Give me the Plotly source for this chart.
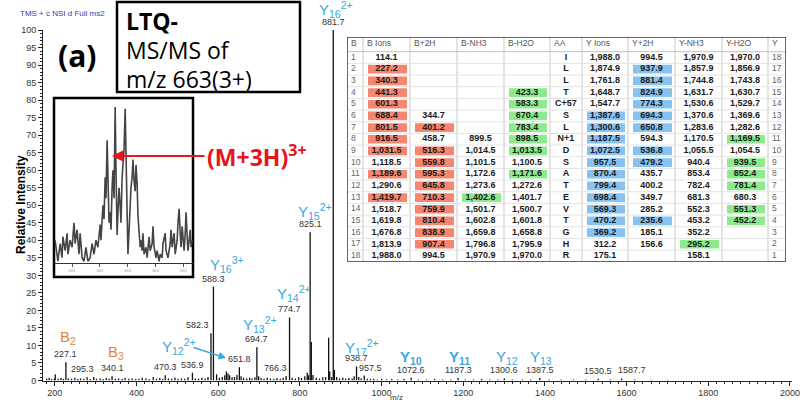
import plotly.graph_objects as go

W, H = 800, 410

# ---------------- spectrum (m/z, relative intensity) ----------------
peak_mz = [180, 186, 192, 199, 201, 208, 215, 221, 227.1, 233, 241, 249, 256, 263, 271, 279, 287,
           295.3, 302, 311, 318, 326, 333, 340.1, 348, 356, 365, 372, 381, 389, 398, 406, 414,
           423, 431, 441, 449, 457, 464, 470.3, 478, 486, 494, 502, 510, 518, 526, 536.9, 544,
           552, 560, 568, 575, 582.3, 588.3, 596, 603, 610, 616, 620, 624, 628, 634, 640, 646,
           651.8, 656, 662, 670, 677, 683, 690, 694.7, 699, 705, 712, 720, 728, 736, 744, 752,
           759, 766.3, 774.7, 781, 789, 797, 804, 812, 818, 821, 825.1, 828, 832, 840, 848, 856,
           863, 870.4, 873, 878, 881.7, 884.5, 890, 897, 905, 912, 920, 928, 933, 938.7, 944,
           950, 957.5, 965, 973, 981, 990, 1000, 1012, 1025, 1040, 1055, 1072.6, 1090, 1110,
           1130, 1150, 1170, 1187.3, 1205, 1225, 1245, 1265, 1285, 1300.6, 1320, 1345, 1365,
           1387.5, 1410, 1440, 1470, 1500, 1530.5, 1560, 1587.7, 1620, 1660, 1700]
peak_int = [0.5, 0.8, 0.4, 0.6, 1.8, 0.5, 0.7, 0.4, 5.2, 0.6, 0.5, 0.8, 0.4, 0.6, 0.5, 0.9, 0.4,
            1.0, 0.5, 0.6, 0.4, 0.7, 0.5, 1.2, 0.5, 0.6, 0.4, 0.7, 0.5, 0.6, 0.4, 0.5, 0.8,
            0.6, 0.4, 1.0, 0.5, 0.7, 0.4, 1.5, 0.6, 0.5, 0.8, 0.4, 0.6, 0.5, 0.9, 2.2, 0.6,
            0.5, 0.8, 0.6, 1.0, 13.5, 26.8, 1.8, 0.8, 1.0, 1.5, 2.6, 2.0, 1.5, 0.9, 1.0, 1.6,
            3.8, 1.2, 0.8, 0.6, 0.8, 0.6, 0.9, 9.5, 1.2, 0.7, 0.5, 0.8, 0.6, 0.5, 0.7, 0.5,
            0.8, 1.3, 18.0, 0.8, 0.6, 0.9, 0.7, 1.2, 2.2, 1.5, 42.3, 11.0, 1.6, 0.8, 0.6, 0.9,
            1.0, 12.2, 2.6, 1.0, 100.0, 3.0, 1.0, 0.6, 0.8, 0.5, 0.7, 0.6, 1.2, 4.0, 1.0,
            0.6, 1.4, 0.5, 0.4, 0.5, 0.3, 0.4, 0.3, 0.4, 0.3, 0.4, 0.8, 0.3, 0.3,
            0.4, 0.3, 0.3, 0.7, 0.3, 0.3, 0.4, 0.3, 0.3, 0.6, 0.3, 0.3, 0.3,
            0.7, 0.3, 0.3, 0.3, 0.3, 0.5, 0.3, 0.6, 0.3, 0.2, 0.2]

label_mz = [227.1, 295.3, 340.1, 470.3, 536.9, 582.3, 588.3, 651.8, 694.7, 766.3, 774.7,
            825.1, 881.7, 938.7, 957.5, 1072.6, 1187.3, 1300.6, 1387.5, 1530.5, 1587.7]

# inset: isotope cluster of the (M+3H)3+ precursor
inset_mz = [660.39, 660.46, 660.49, 660.57, 660.64, 660.67, 660.75, 660.82, 660.85, 660.93,
            661.00, 661.07, 661.11, 661.18, 661.25, 661.29, 661.36, 661.43, 661.50, 661.57,
            661.65, 661.72, 661.79, 661.86, 661.93, 662.01, 662.04, 662.11, 662.15, 662.19,
            662.22, 662.26, 662.29, 662.33, 662.37, 662.40, 662.44, 662.47, 662.51, 662.55,
            662.58, 662.62, 662.65, 662.69, 662.73, 662.76, 662.80, 662.83, 662.87, 662.91,
            662.94, 662.98, 663.01, 663.05, 663.09, 663.12, 663.16, 663.19, 663.23, 663.27,
            663.30, 663.34, 663.37, 663.41, 663.45, 663.48, 663.52, 663.55, 663.59, 663.66,
            663.70, 663.77, 663.81, 663.88, 663.91, 663.95, 664.02, 664.06, 664.13, 664.17,
            664.24, 664.27, 664.35, 664.38, 664.45, 664.53, 664.56, 664.60, 664.67, 664.71,
            664.78, 664.81, 664.85, 664.89, 664.92, 664.96, 664.99, 665.03, 665.07, 665.10,
            665.14, 665.17, 665.21, 665.25, 665.28, 665.32]
inset_int = [40, 36, 34, 39, 35, 41, 37, 42, 36, 40,
             38, 45, 39, 43, 36, 42, 35, 34, 38, 34,
             35, 39, 36, 40, 38, 44.5, 40, 50, 46, 58,
             52, 68.5, 55, 45, 48, 43, 55, 60, 52, 78,
             60, 41.5, 48, 55, 50, 45, 58, 62, 66, 77.5,
             60, 48, 36, 44, 50, 55, 58, 63, 57, 54,
             61.5, 56, 47, 42, 38, 40, 37, 42, 36, 38,
             35, 41, 37, 39, 44, 38, 35, 37, 34, 36,
             35, 39, 42, 37, 35, 39, 43, 38, 42, 36,
             40, 45, 49, 42, 38, 44, 40, 37, 42, 48,
             41, 37, 40, 43, 38, 40]

# ---------------- fragment table ----------------
headers = ["B", "B Ions", "B+2H", "B-NH3", "B-H2O", "AA", "Y Ions", "Y+2H", "Y-NH3", "Y-H2O", "Y"]
b_num = [str(i) for i in range(1, 19)]
b_ions = ["114.1", "227.2", "340.3", "441.3", "601.3", "688.4", "801.5", "916.5", "1,031.5",
          "1,118.5", "1,189.6", "1,290.6", "1,419.7", "1,518.7", "1,619.8", "1,676.8", "1,813.9", "1,988.0"]
b_2h = ["", "", "", "", "", "344.7", "401.2", "458.7", "516.3", "559.8", "595.3", "645.8",
        "710.3", "759.9", "810.4", "838.9", "907.4", "994.5"]
b_nh3 = ["", "", "", "", "", "", "", "899.5", "1,014.5", "1,101.5", "1,172.6", "1,273.6",
         "1,402.6", "1,501.7", "1,602.8", "1,659.8", "1,796.8", "1,970.9"]
b_h2o = ["", "", "", "423.3", "583.3", "670.4", "783.4", "898.5", "1,013.5", "1,100.5",
         "1,171.6", "1,272.6", "1,401.7", "1,500.7", "1,601.8", "1,658.8", "1,795.9", "1,970.0"]
aa = ["I", "L", "L", "T", "C+57", "S", "L", "N+1", "D", "S", "A", "T", "E", "V", "T", "G", "H", "R"]
y_ions = ["1,988.0", "1,874.9", "1,761.8", "1,648.7", "1,547.7", "1,387.6", "1,300.6", "1,187.5",
          "1,072.5", "957.5", "870.4", "799.4", "698.4", "569.3", "470.2", "369.2", "312.2", "175.1"]
y_2h = ["994.5", "937.9", "881.4", "824.9", "774.3", "694.3", "650.8", "594.3", "536.8", "479.2",
        "435.7", "400.2", "349.7", "285.2", "235.6", "185.1", "156.6", ""]
y_nh3 = ["1,970.9", "1,857.9", "1,744.8", "1,631.7", "1,530.6", "1,370.6", "1,283.6", "1,170.5",
         "1,055.5", "940.4", "853.4", "782.4", "681.3", "552.3", "453.2", "352.2", "295.2", "158.1"]
y_h2o = ["1,970.0", "1,856.9", "1,743.8", "1,630.7", "1,529.7", "1,369.6", "1,282.6", "1,169.5",
         "1,054.5", "939.5", "852.4", "781.4", "680.3", "551.3", "452.2", "", "", ""]
y_num = [str(i) for i in range(18, 0, -1)]

# matched rows (1-based) per column
hl_b_ions = [2, 3, 4, 5, 6, 7, 8, 9, 11, 13]
hl_b_2h = [7, 9, 10, 11, 12, 13, 14, 15, 16, 17]
hl_b_nh3 = [13]
hl_b_h2o = [4, 5, 6, 7, 8, 9, 11]
hl_y_ions = [6, 7, 8, 9, 10, 11, 12, 13, 14, 15, 16]
hl_y_2h = [2, 3, 4, 5, 6, 7, 9, 10, 15]
hl_y_nh3 = [17]
hl_y_h2o = [8, 10, 11, 12, 14, 15]

RED, GREEN, BLUE = "#F6866F", "#8DEA8D", "#86C3F2"
CYAN, ORANGE = "#35A9E0", "#E8833A"
FONT = "Liberation Sans"


def fx(x):
    return x / W


def fy(y):
    return 1 - y / H


fig = go.Figure()

# stick spectrum
xs, ys = [], []
for m, i in zip(peak_mz, peak_int):
    xs += [m, m, None]
    ys += [0, i, None]
fig.add_trace(go.Scatter(x=xs, y=ys, mode="lines", line=dict(color="#111", width=1.3),
                         hoverinfo="skip"))

# inset profile
fig.add_trace(go.Scatter(x=inset_mz, y=inset_int, mode="lines", xaxis="x2", yaxis="y2",
                         line=dict(color="#444", width=1.6), hoverinfo="skip"))

# ---- table (own axis, px-like units) ----
col_w = [16, 47, 47, 47, 46, 32, 46, 47, 47, 46, 18]
head_h, row_h = 14.7, 11.67
tab_h = head_h + 18 * row_h
lefts = [sum(col_w[:k]) for k in range(len(col_w))]
rights = [lefts[k] + col_w[k] for k in range(len(col_w))]
columns = [b_num, b_ions, b_2h, b_nh3, b_h2o, aa, y_ions, y_2h, y_nh3, y_h2o, y_num]
highlights = {1: (hl_b_ions, RED), 2: (hl_b_2h, RED), 3: (hl_b_nh3, GREEN), 4: (hl_b_h2o, GREEN),
              6: (hl_y_ions, BLUE), 7: (hl_y_2h, BLUE), 8: (hl_y_nh3, GREEN), 9: (hl_y_h2o, GREEN)}

shapes = []
# white panel behind the table
shapes.append(dict(type="rect", xref="paper", yref="paper", x0=fx(340), x1=fx(792),
                   y0=fy(298), y1=fy(31), fillcolor="white", line=dict(width=0),
                   layer="below"))
# LTQ box
shapes.append(dict(type="rect", xref="paper", yref="paper", x0=fx(117), x1=fx(300),
                   y0=fy(92), y1=fy(2), fillcolor="white", line=dict(color="black", width=2.5),
                   layer="below"))
# inset box
shapes.append(dict(type="rect", xref="paper", yref="paper", x0=fx(54), x1=fx(193),
                   y0=fy(277), y1=fy(98), fillcolor="white", line=dict(color="black", width=2.5),
                   layer="below"))

for k, (rows, col) in highlights.items():
    for r in rows:
        top = head_h + (r - 1) * row_h
        shapes.append(dict(type="rect", xref="x3", yref="y3", x0=lefts[k] + 5, x1=rights[k] - 3,
                           y0=top + 1.5, y1=top + row_h - 1.5, fillcolor=col, line=dict(width=0),
                           layer="below"))
for k in range(1, len(col_w)):
    shapes.append(dict(type="line", xref="x3", yref="y3", x0=lefts[k], x1=lefts[k], y0=0,
                       y1=tab_h, line=dict(color="#c8c8c8", width=1), layer="below"))
for r in range(19):
    yline = head_h + r * row_h
    shapes.append(dict(type="line", xref="x3", yref="y3", x0=0, x1=rights[-1], y0=yline,
                       y1=yline, line=dict(color="#e4e4e4" if r else "#c0c0c0", width=1),
                       layer="below"))
shapes.append(dict(type="rect", xref="x3", yref="y3", x0=0, x1=rights[-1], y0=0, y1=tab_h,
                   line=dict(color="#333", width=1.5)))

row_c = [head_h + (r + 0.5) * row_h for r in range(18)]
for k, vals in enumerate(columns):
    edge = k in (0, len(columns) - 1)
    fig.add_trace(go.Scatter(
        x=[lefts[k] + 4 if edge else (lefts[k] + rights[k]) / 2] * 18, y=row_c,
        text=vals if edge else ["<b>%s</b>" % v for v in vals], mode="text",
        textposition="middle right" if edge else "middle center",
        textfont=dict(family=FONT, size=9 if not edge else 8.5,
                      color="#666" if edge else "#1a1a1a"),
        xaxis="x3", yaxis="y3", hoverinfo="skip", cliponaxis=False))
fig.add_trace(go.Scatter(
    x=[lefts[k] + 4 for k in range(len(headers))], y=[head_h / 2] * len(headers), text=headers,
    mode="text", textposition="middle right", textfont=dict(family=FONT, size=8.5, color="#555"),
    xaxis="x3", yaxis="y3", hoverinfo="skip", cliponaxis=False))

# ---- annotations ----
ann = []
lookup = dict(zip(peak_mz, peak_int))
shift = {295.3: -11, 582.3: -13, 766.3: -11, 957.5: 6, 1587.7: 10}
for m in label_mz:
    ann.append(dict(x=m, y=lookup[m], xref="x", yref="y", text="%.1f" % m, showarrow=False,
                    yanchor="bottom", yshift=1, xshift=shift.get(m, 0),
                    font=dict(family=FONT, size=9, color="#333")))

ion_labels = [
    ("Y<sub>16</sub><sup>2+</sup>", 317, 9, CYAN, False),
    ("Y<sub>15</sub><sup>2+</sup>", 296, 211, CYAN, False),
    ("Y<sub>16</sub><sup>3+</sup>", 208, 264, CYAN, False),
    ("Y<sub>14</sub><sup>2+</sup>", 275, 293, CYAN, False),
    ("Y<sub>13</sub><sup>2+</sup>", 241, 324, CYAN, False),
    ("Y<sub>12</sub><sup>2+</sup>", 160, 346, CYAN, False),
    ("Y<sub>17</sub><sup>2+</sup>", 343, 347, CYAN, False),
    ("Y<sub>10</sub>", 398, 357, CYAN, True),
    ("Y<sub>11</sub>", 447, 357, CYAN, True),
    ("Y<sub>12</sub>", 494, 357, CYAN, False),
    ("Y<sub>13</sub>", 528, 357, CYAN, False),
    ("B<sub>2</sub>", 58, 337, ORANGE, False),
    ("B<sub>3</sub>", 106, 352, ORANGE, False),
]
for txt, lx, cy, colr, bold in ion_labels:
    ann.append(dict(x=fx(lx), y=fy(cy), xref="paper", yref="paper", xanchor="left",
                    yanchor="middle", showarrow=False, text="<b>%s</b>" % txt if bold else txt,
                    font=dict(family=FONT, size=15, color=colr)))

# Y12 2+ arrow
ann.append(dict(x=fx(226), y=fy(358), ax=-34, ay=-11, xref="paper", yref="paper",
                text="", showarrow=True, arrowhead=2,
                arrowsize=1, arrowwidth=1.5, arrowcolor=CYAN))
# precursor arrow + label
ann.append(dict(x=fx(112), y=fy(156), ax=94, ay=0, xref="paper", yref="paper",
                text="", showarrow=True, arrowhead=2,
                arrowsize=1, arrowwidth=2.2, arrowcolor="#E8141B"))
ann.append(dict(x=fx(205), y=fy(156), xref="paper", yref="paper", xanchor="left",
                yanchor="middle", showarrow=False, text="<b>(M+3H)<sup>3+</sup></b>",
                font=dict(family="Open Sans", size=23, color="#E8141B")))

ann.append(dict(x=fx(56), y=fy(55), xref="paper", yref="paper", xanchor="left", yanchor="middle",
                showarrow=False, text="<b>(a)</b>",
                font=dict(family="Open Sans", size=30, color="black")))
for txt, cy in [("<b>LTQ-</b>", 21), ("MS/MS of", 50), ("m/z 663(3+)", 79)]:
    ann.append(dict(x=fx(124), y=fy(cy), xref="paper", yref="paper", xanchor="left",
                    yanchor="middle", showarrow=False, text=txt,
                    font=dict(family="Open Sans", size=23, color="black")))
ann.append(dict(x=fx(18), y=fy(13), xref="paper", yref="paper", xanchor="left", yanchor="middle",
                showarrow=False, text="TMS + c NSI d Full ms2",
                font=dict(family=FONT, size=8, color="#2a3fb0")))
ann.append(dict(x=fx(12), y=fy(205), xref="paper", yref="paper", textangle=-90,
                showarrow=False, text="<b>Relative Intensity</b>",
                font=dict(family=FONT, size=12, color="black")))
ann.append(dict(x=fx(396), y=fy(404), xref="paper", yref="paper", showarrow=False, text="m/z",
                font=dict(family=FONT, size=8, color="#333")))

tick_font = dict(family=FONT, size=9, color="#333")
fig.update_layout(
    width=W, height=H, margin=dict(l=0, r=0, t=0, b=0, autoexpand=False),
    paper_bgcolor="white", plot_bgcolor="rgba(0,0,0,0)", showlegend=False,
    xaxis=dict(domain=[fx(43), fx(791.6)], range=[171, 2004], tick0=0, dtick=200,
               showline=True, linecolor="#222", linewidth=1, ticks="outside", ticklen=4,
               tickcolor="#222", tickfont=tick_font, showgrid=False, zeroline=False,
               automargin=False,
               minor=dict(dtick=20, ticks="outside", ticklen=2, tickcolor="#222")),
    yaxis=dict(domain=[fy(380.5), fy(30)], range=[0, 100], dtick=5, showline=True,
               linecolor="#222", linewidth=1, ticks="outside", ticklen=4, tickcolor="#222",
               tickfont=tick_font, showgrid=False, zeroline=False, automargin=False,
               minor=dict(dtick=1, ticks="outside", ticklen=2, tickcolor="#222")),
    xaxis2=dict(domain=[fx(54), fx(193)], range=[660.35, 665.35], anchor="y2", dtick=1,
                showline=True, linecolor="#333", linewidth=1, ticks="outside", ticklen=3,
                tickcolor="#555", tickfont=dict(family=FONT, size=4, color="#999"),
                showgrid=False, zeroline=False, automargin=False),
    yaxis2=dict(domain=[fy(263), fy(98)], range=[33.5, 80.6], anchor="x2", visible=False,
                automargin=False),
    xaxis3=dict(domain=[fx(347), fx(786)], range=[0, sum(col_w)], anchor="y3", visible=False,
                automargin=False),
    yaxis3=dict(domain=[fy(37 + tab_h), fy(37)], range=[tab_h, 0], anchor="x3", visible=False,
                automargin=False),
    shapes=shapes, annotations=ann,
)

# the page's default body margin would push the 800x410 figure off the window
fig.write_html("out.html", config={"displayModeBar": False},
               post_script="document.body.style.margin = '0';")
